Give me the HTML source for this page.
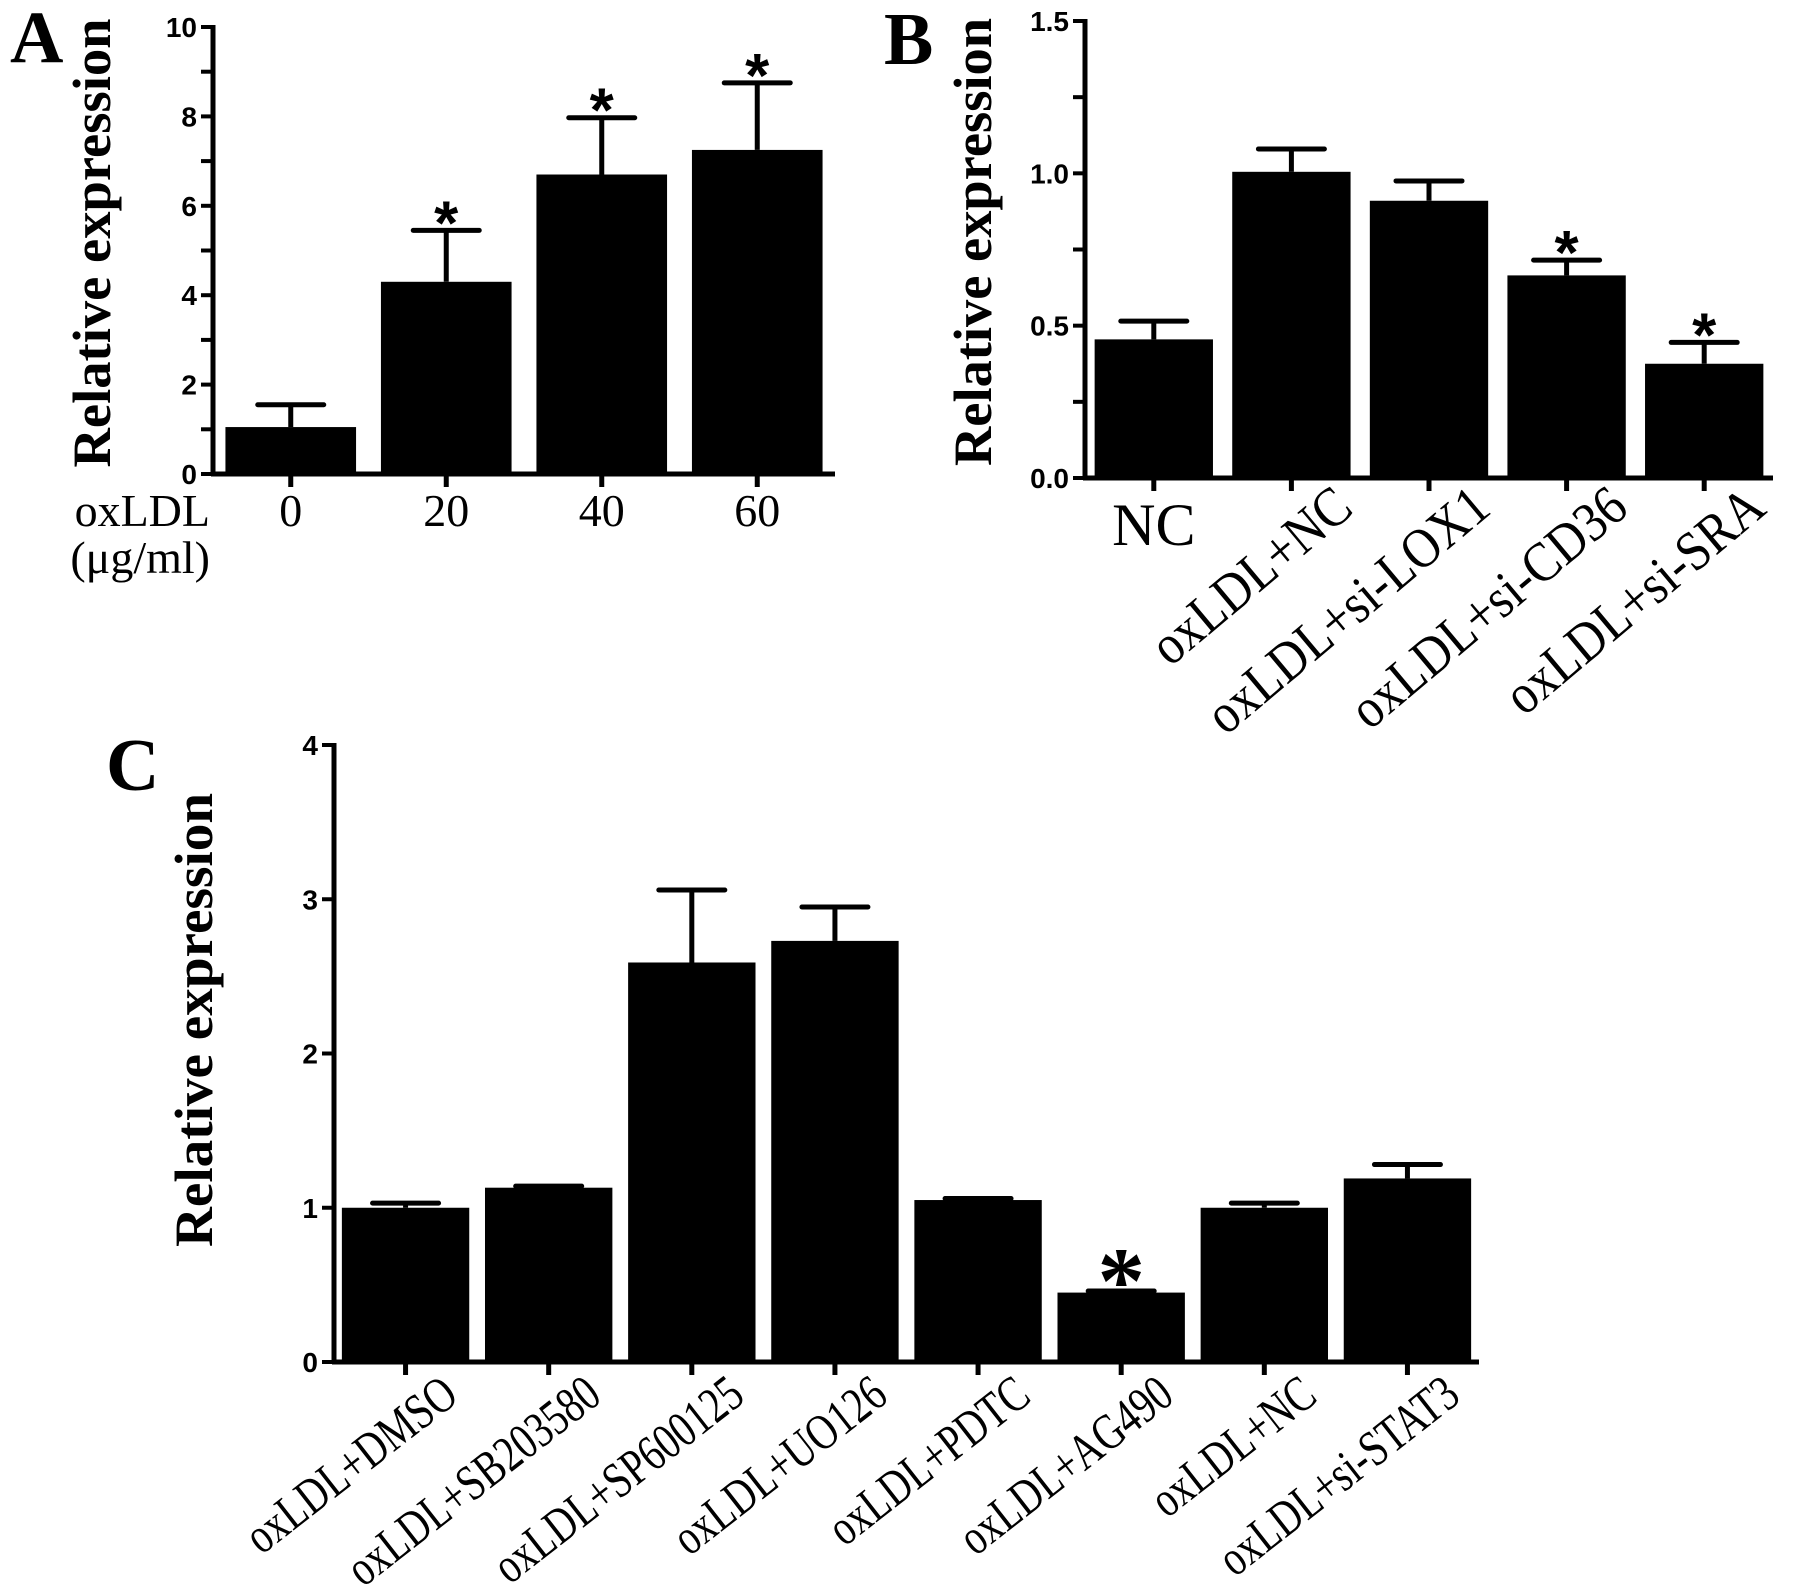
<!DOCTYPE html>
<html><head><meta charset="utf-8"><style>
html,body{margin:0;padding:0;background:#fff;overflow:hidden;}
svg{display:block;}
</style></head><body>
<svg id="fig" width="1795" height="1586" viewBox="0 0 1795 1586" xmlns="http://www.w3.org/2000/svg">
<text x="10" y="62" font-family="Liberation Serif, serif" font-weight="bold" font-size="74">A</text>
<text x="884" y="64" font-family="Liberation Serif, serif" font-weight="bold" font-size="74">B</text>
<text x="106" y="790" font-family="Liberation Serif, serif" font-weight="bold" font-size="74">C</text>
<text x="210" y="526" text-anchor="end" font-family="Liberation Serif, serif" font-size="46">oxLDL</text>
<text x="210" y="573" text-anchor="end" font-family="Liberation Serif, serif" font-size="46">(μg/ml)</text>
</svg>
<script>
// Panel A data
const aCats = ["0","20","40","60"];
const aVals = [1.05, 4.3, 6.7, 7.25];
const aErr = [1.55, 5.45, 7.97, 8.75];
const aSig = [false, true, true, true];
const aTicks = ["0","2","4","6","8","10"];
// Panel B data
const bCats = ["NC","oxLDL+NC","oxLDL+si-LOX1","oxLDL+si-CD36","oxLDL+si-SRA"];
const bVals = [0.455, 1.005, 0.91, 0.665, 0.375];
const bErr = [0.515, 1.08, 0.975, 0.715, 0.445];
const bSig = [false, false, false, true, true];
const bTicks = ["0.0","0.5","1.0","1.5"];
// Panel C data
const cCats = ["oxLDL+DMSO","oxLDL+SB203580","oxLDL+SP600125","oxLDL+UO126","oxLDL+PDTC","oxLDL+AG490","oxLDL+NC","oxLDL+si-STAT3"];
const cVals = [1.0, 1.13, 2.59, 2.73, 1.05, 0.45, 1.0, 1.19];
const cErr = [1.03, 1.14, 3.06, 2.95, 1.06, 0.46, 1.03, 1.28];
const cSig = [false, false, false, false, false, true, false, false];
const cTicks = ["0","1","2","3","4"];

const NS = "http://www.w3.org/2000/svg";
const svg = document.getElementById("fig");
function mk(tag, attrs){ const e=document.createElementNS(NS,tag); for(const k in attrs) e.setAttribute(k,attrs[k]); svg.appendChild(e); return e; }

function panel(p){
  const n = p.cats.length;
  const y = v => p.y0 - (v - 0)/(p.max) * (p.y0 - p.yTop);
  const step = (p.xEnd - p.ax) / n;
  const xc = i => p.ax + step*(i+0.5);
  let l = mk("line",{x1:p.ax,y1:p.yTop-2,x2:p.ax,y2:p.y0+2,stroke:"#000","stroke-width":5});
  
  
  l = mk("line",{x1:p.ax-2,y1:p.y0,x2:p.xEnd,y2:p.y0,stroke:"#000","stroke-width":5});
  
  
  for(let v=0; v<=p.max+1e-9; v+=p.minor){
    const t = mk("line",{x1:p.ax-12,y1:y(v),x2:p.ax,y2:y(v),stroke:"#000","stroke-width":4});
    
    
  }
  p.ticks.forEach(s=>{
    const t = mk("text",{x:p.ax-16,y:y(parseFloat(s))+10,"text-anchor":"end","font-family":"Liberation Sans, sans-serif","font-weight":"bold","font-size":28});
    t.textContent = s;
    
    
  });
  const tt = mk("text",{x:0,y:0,transform:`translate(${p.titleX},${p.titleMid}) rotate(-90)`,"text-anchor":"middle","font-family":"Liberation Serif, serif","font-weight":"bold","font-size":54,textLength:p.titleLen,lengthAdjust:"spacingAndGlyphs"});
  tt.textContent = "Relative expression";
  
  
  const bw = step*p.bw;
  for(let i=0;i<n;i++){
    const cx = xc(i);
    const vTop = y(p.vals[i]), eTop = y(p.err[i]);
    const xt = mk("line",{x1:cx,y1:p.y0,x2:cx,y2:p.y0+13,stroke:"#000","stroke-width":5});
    
    
    const el = mk("line",{x1:cx,y1:vTop,x2:cx,y2:eTop,stroke:"#000","stroke-width":5});
    
    
    const cap = mk("line",{x1:cx-p.cap,y1:eTop,x2:cx+p.cap,y2:eTop,stroke:"#000","stroke-width":5,"stroke-linecap":"round"});
    
    
    const r = mk("rect",{x:cx-bw/2,y:vTop,width:bw,height:p.y0-vTop,fill:"#000"});
    
    
    if(p.sig[i]){
      const a = mk("text",{x:cx,y:eTop+p.astOff,"text-anchor":"middle","font-family":p.astFont,"font-weight":"bold","font-size":p.astSize});
      a.textContent = "*";
      
      
    }
    const lab = p.cats[i];
    let t;
    if(p.rot===0 || (p.id==="b" && i===0)){
      t = mk("text",{x:cx,y:p.id==="b"?545:p.labY,"text-anchor":"middle","font-family":"Liberation Serif, serif","font-size":p.id==="b"?60:46});
    } else {
      const px = cx + p.labDx, py = p.labY;
      t = mk("text",{x:0,y:0,transform:`translate(${px},${py}) rotate(${-p.rot}) scale(${p.sx},1.08)`,"text-anchor":"end","font-family":"Liberation Serif, serif","font-size":p.labSize});
    }
    t.textContent = lab;
    
    
  }
}

panel({id:"a",cats:aCats,vals:aVals,err:aErr,sig:aSig,ticks:aTicks,max:10,minor:1,
  ax:213,xEnd:835,y0:474,yTop:27,bw:0.84,cap:33,rot:0,labY:526,
  titleX:110,titleMid:243,titleLen:449,astFont:"Liberation Sans, sans-serif",astSize:62,astOff:14});
panel({id:"b",cats:bCats,vals:bVals,err:bErr,sig:bSig,ticks:bTicks,max:1.5,minor:0.25,
  ax:1085,xEnd:1773,y0:478,yTop:21,bw:0.86,cap:33,rot:40,labY:512,labDx:64,labSize:52,sx:0.95,
  titleX:991,titleMid:242,titleLen:448,astFont:"Liberation Sans, sans-serif",astSize:62,astOff:14});
panel({id:"c",cats:cCats,vals:cVals,err:cErr,sig:cSig,ticks:cTicks,max:4,minor:1,
  ax:334,xEnd:1479,y0:1362,yTop:745,bw:0.89,cap:33,rot:38,labY:1400,labDx:55,labSize:47,sx:0.84,
  titleX:212,titleMid:1020,titleLen:454,astFont:"Liberation Serif, serif",astSize:95,astOff:22});
</script>
</body></html>
